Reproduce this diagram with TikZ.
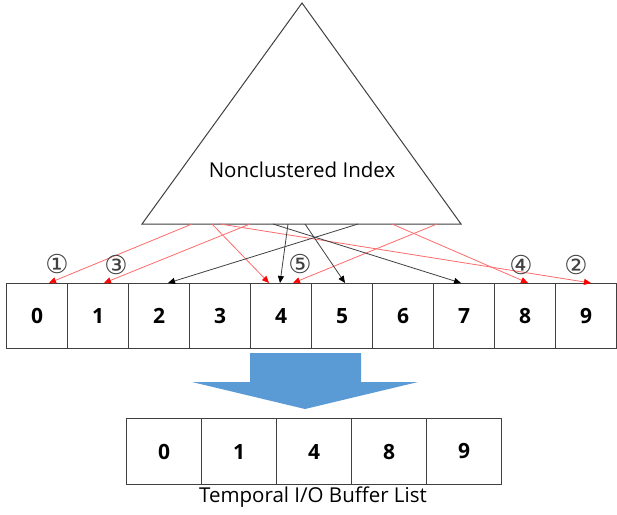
\documentclass[tikz,border=0pt]{standalone}
\usepackage{fontspec}
\setmainfont{Open Sans}
\newfontfamily\symfont{DejaVu Sans}
\usetikzlibrary{arrows.meta,calc}
\definecolor{boxline}{HTML}{404040}
\definecolor{arrowblue}{HTML}{5B9BD5}
\definecolor{redline}{HTML}{FF6A6A}
\tikzset{
  x=1pt,y=-1pt,
  cellbox/.style={draw=boxline,line width=1pt,minimum width=61pt,minimum height=65pt,inner sep=0pt,font=\fontsize{21}{21}\selectfont\bfseries,anchor=north west},
  bufbox/.style={draw=boxline,line width=1pt,minimum width=75pt,minimum height=66pt,inner sep=0pt,font=\fontsize{21}{21}\selectfont\bfseries,anchor=north west},
  redarrow/.style={draw=redline,line width=0.8pt,-{Triangle[length=7pt,width=6pt,color=red]}},
  blkarrow/.style={draw=boxline,line width=0.8pt,-{Triangle[length=7pt,width=6pt,color=black]}},
  circnum/.style={font=\symfont\fontsize{26}{26}\selectfont,text=black!75,inner sep=0pt}
}
\begin{document}
\begin{tikzpicture}
\useasboundingbox (0,0) rectangle (617,514);
% triangle
\coordinate (apex) at (302,3);
\coordinate (bl) at (142,224);
\coordinate (br) at (461,224);
\draw[boxline,line width=1pt,fill=white] (apex) -- (br) -- (bl) -- cycle;
\node[font=\fontsize{20.5}{20.5}\selectfont] (idx) at (302,170) {Nonclustered Index};
% cells
\foreach \i in {0,...,9}{
  \node[cellbox] (c\i) at ({6+61*\i},283) {\i};
}
% base start points
\coordinate (s1) at (192,224);
\coordinate (s3) at (250,224);
\coordinate (s2) at (220,224);
\coordinate (s4r) at (212,224);
\coordinate (s5) at (437,224);
\coordinate (s8) at (392,224);
\coordinate (k2) at (358,224);
\coordinate (k4) at (288,224);
\coordinate (k5) at (305,224);
\coordinate (k7) at (273,224);
% red arrows
\draw[redarrow] (s1) -- ($(c0.north west)+(43,0)$);
\draw[redarrow] (s3) -- ($(c1.north west)+(37,0)$);
\draw[redarrow] (s4r) -- ($(c4.north west)+(19,0)$);
\draw[redarrow] (s5) -- ($(c4.north west)+(43,0)$);
\draw[redarrow] (s8) -- ($(c8.north west)+(34,0)$);
\draw[redarrow] (s2) -- ($(c9.north west)+(36,0)$);
% black arrows
\draw[blkarrow] (k2) -- ($(c2.north west)+(40,0)$);
\draw[blkarrow] (k4) -- ($(c4.north west)+(30,0)$);
\draw[blkarrow] (k5) -- ($(c5.north west)+(34,0)$);
\draw[blkarrow] (k7) -- ($(c7.north west)+(28,0)$);
% circled numbers
\node[circnum] (n1) at (57,264) {①};
\node[circnum] (n3) at (116,265) {③};
\node[circnum] (n5) at (300,264) {⑤};
\node[circnum] (n4) at (521,265) {④};
\node[circnum] (n2) at (576,265) {②};
% big blue arrow
\fill[arrowblue] (250,353) -- (361,353) -- (361,382) -- (418,382) -- (305,409) -- (192,382) -- (250,382) -- cycle;
% buffer list
\foreach \v [count=\j from 0] in {0,1,4,8,9}{
  \node[bufbox] (b\j) at ({126+75*\j},418) {\v};
}
\node[font=\fontsize{20.5}{20.5}\selectfont] (lbl) at (313,497) {Temporal I/O Buffer List};
\end{tikzpicture}
\end{document}
